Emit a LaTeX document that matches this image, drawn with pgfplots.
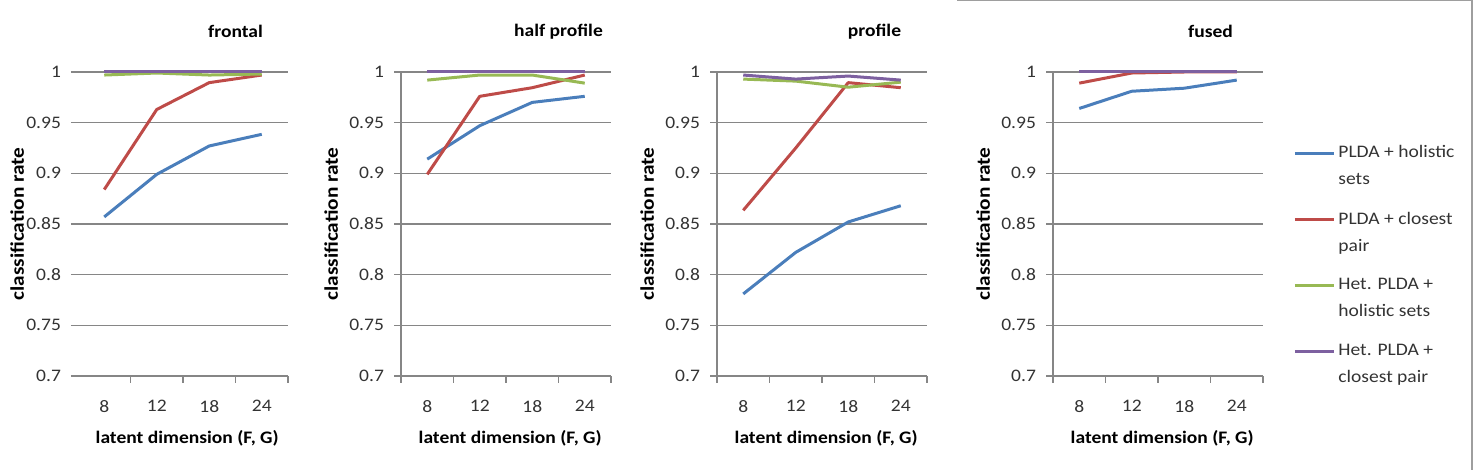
\documentclass[border=0pt]{standalone}
\usepackage{fontspec}
\setmainfont[FakeStretch=1.11]{Carlito}
\usepackage{pgfplots}
\pgfplotsset{compat=1.18}

\definecolor{sblue}{HTML}{4A7EBB}
\definecolor{sred}{HTML}{BE4B48}
\definecolor{sgreen}{HTML}{98B954}
\definecolor{spurple}{HTML}{7D60A0}
\definecolor{gridgray}{HTML}{868686}

\newcommand{\lbl}{\fontsize{8.8}{13.5}\selectfont}

\pgfplotsset{
  every axis title shift=0pt,
  panel/.style={
    scale only axis, width=105pt, height=152pt,
    xmin=-0.5, xmax=3.5, ymin=0.7, ymax=1,
    clip=false,
    ytick={0.7,0.75,0.8,0.85,0.9,0.95,1},
    /pgf/number format/.cd, fixed, precision=2, assume math mode=true, /pgfplots/.cd,
    ymajorgrids, grid style={gridgray, line width=0.75pt},
    axis x line=bottom, axis y line=left,
    axis line style={gridgray, line width=0.75pt, -},
    xtick={-0.5,0.5,1.5,2.5,3.5}, xticklabels={},
    extra x ticks={0,1,2,3}, extra x tick labels={8,12,18,24},
    extra x tick style={major tick length=0pt},
    tick align=outside, major tick length=3.5pt,
    tick style={gridgray, line width=0.75pt},
    ticklabel style={font=\lbl, text=black!80},
    xticklabel style={anchor=north, yshift=-8.5pt},
    yticklabel style={anchor=east, xshift=-1.5pt},
    title style={at={(axis description cs:0.75,1.132)}, anchor=center, font=\lbl\bfseries},
    xlabel={latent dimension (F, G)},
    xlabel style={at={(axis description cs:0.52,-0.204)}, anchor=center, font=\lbl\bfseries},
    ylabel={classification rate},
    ylabel style={at={(axis description cs:-0.333,0.5)}, anchor=center, font=\fontsize{9.6}{11}\selectfont\bfseries},
    every axis plot/.append style={line width=1.5pt, line join=round, no marks},
  },
}

\begin{document}
\begin{tikzpicture}
\useasboundingbox (0,0) rectangle (739pt,235pt);

% frontal
\begin{axis}[panel, at={(39pt,47pt)}, anchor=south west, title={frontal},
  xtick={0.5,1.5,2.5,3.5},
  y axis line style={draw=none}, ylabel style={at={(axis description cs:-0.29,0.5)}}]
\addplot[sblue] coordinates {(0,0.857) (1,0.899) (2,0.927) (3,0.9385)};
\addplot[sred] coordinates {(0,0.884) (1,0.963) (2,0.9895) (3,0.997)};
\addplot[sgreen] coordinates {(0,0.997) (1,0.999) (2,0.997) (3,0.998)};
\addplot[spurple] coordinates {(0,1) (1,1) (2,1) (3,1)};
\end{axis}

% half profile
\begin{axis}[panel, at={(200.5pt,47pt)}, anchor=south west, title={half profile}]
\addplot[sblue] coordinates {(0,0.914) (1,0.947) (2,0.970) (3,0.976)};
\addplot[sred] coordinates {(0,0.899) (1,0.976) (2,0.9845) (3,0.997)};
\addplot[sgreen] coordinates {(0,0.992) (1,0.997) (2,0.997) (3,0.989)};
\addplot[spurple] coordinates {(0,1) (1,1) (2,1) (3,1)};
\end{axis}

% profile
\begin{axis}[panel, at={(358.5pt,47pt)}, anchor=south west, title={profile}]
\addplot[sblue] coordinates {(0,0.781) (1,0.822) (2,0.852) (3,0.868)};
\addplot[sred] coordinates {(0,0.8635) (1,0.925) (2,0.9895) (3,0.9845)};
\addplot[sgreen] coordinates {(0,0.993) (1,0.991) (2,0.985) (3,0.990)};
\addplot[spurple] coordinates {(0,0.997) (1,0.993) (2,0.996) (3,0.992)};
\end{axis}

% fused, with the legend
\begin{axis}[panel, at={(526.5pt,47pt)}, anchor=south west, title={fused},
  legend cell align=left,
  legend image code/.code={\draw[#1, yshift=6.75pt] (0pt,0pt) -- (19.5pt,0pt);},
  legend style={at={(axis description cs:1.143,0.773)}, anchor=north west,
    draw=none, fill=none, inner sep=0pt, row sep=8.2pt,
    nodes={align=left, font=\lbl, text=black!80, inner xsep=1.5pt}}]
\addplot[sblue] coordinates {(0,0.964) (1,0.981) (2,0.984) (3,0.992)};
\addlegendentry{PLDA + holistic\\sets}
\addplot[sred] coordinates {(0,0.989) (1,0.999) (2,1) (3,1)};
\addlegendentry{PLDA + closest\\pair}
\addplot[sgreen] coordinates {(0,1) (1,1) (2,1) (3,1)};
\addlegendentry{Het. PLDA +\\holistic sets}
\addplot[spurple] coordinates {(0,1) (1,1) (2,1) (3,1)};
\addlegendentry{Het. PLDA +\\closest pair}
\end{axis}

% frame of the last chart area
\draw[gridgray!80, line width=0.6pt] (478.5pt,234.6pt) -- (736pt,234.6pt) -- (736pt,0pt);
\end{tikzpicture}
\end{document}
